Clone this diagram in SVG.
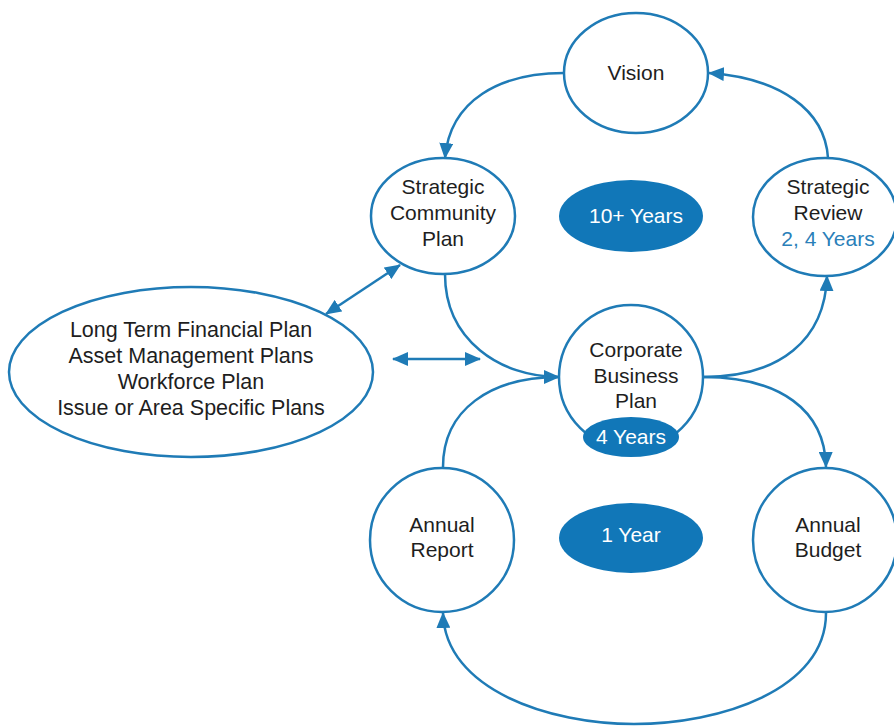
<svg xmlns="http://www.w3.org/2000/svg" width="894" height="726" viewBox="0 0 894 726">
<defs>
<style>
.n{fill:#fff;stroke:#1f7bb6;stroke-width:2.5}
.b{fill:#1177b8;stroke:none}
.t{font-family:"Liberation Sans",Arial,sans-serif;font-size:21px;fill:#1e1e1e;text-anchor:middle}
.l{font-size:21.5px}
.w{fill:#fff}
.bl{fill:#2a80b9}
.c{fill:none;stroke:#1f7bb6;stroke-width:2.5}
</style>
<marker id="ah" viewBox="0 0 16 14" refX="15" refY="7" markerWidth="16" markerHeight="14" markerUnits="userSpaceOnUse" orient="auto-start-reverse">
<path d="M0,0 L16,7 L0,14 z" fill="#1f7bb6"/>
</marker>
</defs>
<rect width="894" height="726" fill="#fff"/>
<g id="connectors">
<path class="c" d="M564,73 C500,73 450,100 445,158" marker-end="url(#ah)"/>
<path class="c" d="M828,158 C825,110 780,78 709,73" marker-end="url(#ah)"/>
<path class="c" d="M445,274 C445,340 500,377 559,377" marker-end="url(#ah)"/>
<path class="c" d="M443,467 C443,410 490,377 559,377"/>
<path class="c" d="M703,377 C780,377 825,340 827,276" marker-end="url(#ah)"/>
<path class="c" d="M703,377 C780,377 825,410 826,467" marker-end="url(#ah)"/>
<path class="c" d="M826,613 C826,690 720,724 634,724 C550,724 445,690 443,613" marker-end="url(#ah)"/>
<path class="c" d="M326,314 L400,265" marker-start="url(#ah)" marker-end="url(#ah)"/>
<path class="c" d="M393,359 L480,359" marker-start="url(#ah)" marker-end="url(#ah)"/>
</g>
<g id="vision">
<ellipse class="n" cx="636" cy="73" rx="72" ry="60"/>
<text class="t" x="636" y="80">Vision</text>
</g>
<g id="scp">
<ellipse class="n" cx="443" cy="216" rx="72" ry="58"/>
<text class="t" x="443" y="194">Strategic</text>
<text class="t" x="443" y="220">Community</text>
<text class="t" x="443" y="246">Plan</text>
</g>
<g id="ten-years">
<ellipse class="b" cx="631" cy="216" rx="72" ry="36"/>
<text class="t w" x="636" y="223">10+ Years</text>
</g>
<g id="sr">
<ellipse class="n" cx="825" cy="217" rx="72" ry="59"/>
<text class="t" x="828" y="194">Strategic</text>
<text class="t" x="828" y="220">Review</text>
<text class="t bl" x="828" y="246">2, 4 Years</text>
</g>
<g id="plans">
<ellipse class="n" cx="191" cy="372" rx="182" ry="85"/>
<text class="t l" x="191" y="337">Long Term Financial Plan</text>
<text class="t l" x="191" y="363">Asset Management Plans</text>
<text class="t l" x="191" y="389">Workforce Plan</text>
<text class="t l" x="191" y="415">Issue or Area Specific Plans</text>
</g>
<g id="cbp">
<circle class="n" cx="631" cy="377" r="72"/>
<text class="t" x="636" y="357">Corporate</text>
<text class="t" x="636" y="383">Business</text>
<text class="t" x="636" y="408">Plan</text>
<ellipse class="b" cx="631" cy="437" rx="48" ry="20"/>
<text class="t w" x="631" y="444">4 Years</text>
</g>
<g id="ar">
<circle class="n" cx="442" cy="540" r="72"/>
<text class="t" x="442" y="532">Annual</text>
<text class="t" x="442" y="557">Report</text>
</g>
<g id="one-year">
<ellipse class="b" cx="631" cy="538" rx="72" ry="35"/>
<text class="t w" x="631" y="542">1 Year</text>
</g>
<g id="ab">
<circle class="n" cx="825" cy="540" r="72"/>
<text class="t" x="828" y="532">Annual</text>
<text class="t" x="828" y="557">Budget</text>
</g>
</svg>
